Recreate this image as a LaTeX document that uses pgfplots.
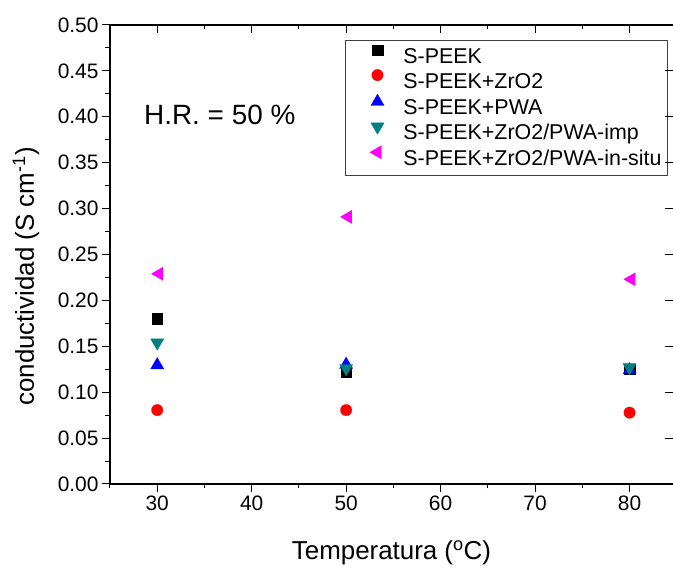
\documentclass[border=0pt]{standalone}
\usepackage{pgfplots}
\pgfplotsset{compat=1.18}
\usepackage{fontspec}
\setmainfont{Liberation Sans}
\definecolor{oteal}{RGB}{0,128,128}
\definecolor{omag}{RGB}{255,0,255}

\pgfplotsset{
 commonax/.style={
  scale only axis, width=563bp, height=459bp,
  xmin=25, xmax=84.6, ymin=0, ymax=0.5,
  xtick={30,40,50,60,70,80},
  minor xtick={25,35,45,55,65,75},
  ytick={0,0.05,0.10,0.15,0.20,0.25,0.30,0.35,0.40,0.45,0.50},
  major tick length=8bp, minor tick length=4.5bp,
  every tick/.style={black, line width=1bp},
  axis line style={line width=1.3bp, black},
 }
}

\begin{document}
\begin{tikzpicture}
\begin{axis}[commonax,
  axis x line*=bottom, axis y line*=left,
  tick align=outside,
  minor ytick={0.025,0.075,0.125,0.175,0.225,0.275,0.325,0.375,0.425,0.475},
  /pgf/number format/assume math mode=true,
  ticklabel style={font=\fontsize{21}{25}\selectfont},
  yticklabel style={/pgf/number format/.cd, fixed, fixed zerofill, precision=2},
  xticklabel style={/pgf/number format/.cd, fixed},
  label style={font=\fontsize{26}{30}\selectfont},
  xlabel={Temperatura (\textsuperscript{o}C)},
  ylabel={conductividad (S cm\textsuperscript{-1})},
  xlabel style={at={(rel axis cs:0.5,0)}, anchor=base, yshift=-76bp},
  ylabel style={at={(rel axis cs:0,0.5)}, anchor=base, yshift=76bp, xshift=-22bp},
  legend cell align=left,
  legend image code/.code={\path (-28bp,0bp) (10bp,0bp); \draw[#1] plot coordinates {(0bp,6.5bp)};},
  legend style={at={(rel axis cs:0.4174,0.9673)}, anchor=north west,
    draw=black!75, line width=0.8bp, inner sep=3.7bp, row sep=0bp, column sep=13.5bp,
    font=\fontsize{21.5}{25}\selectfont,
    nodes={inner xsep=2bp, inner ysep=1bp, text height=18bp, text depth=5bp}},
]
\addplot[only marks, mark=square*, mark size=5.3bp, mark options={fill=black, draw=black, line width=0.3bp}]
 coordinates {(30,0.180) (50,0.1225) (80,0.125)};
\addlegendentry{S-PEEK}
\addplot[only marks, mark=*, mark size=5.7bp, mark options={fill=red, draw=red, line width=0.3bp}]
 coordinates {(30,0.0805) (50,0.0805) (80,0.0777)};
\addlegendentry{S-PEEK+ZrO2}
\addplot[only marks, mark=triangle*, mark size=7.6bp, mark options={fill=blue, draw=blue, line width=0.3bp}]
 coordinates {(30,0.1295) (50,0.130) (80,0.124)};
\addlegendentry{S-PEEK+PWA}
\addplot[only marks, mark=triangle*, mark size=7.6bp, mark options={rotate=180, fill=oteal, draw=oteal, line width=0.3bp}]
 coordinates {(30,0.154) (50,0.126) (80,0.127)};
\addlegendentry{S-PEEK+ZrO2/PWA-imp}
\addplot[only marks, mark=triangle*, mark size=7.6bp, mark options={rotate=90, fill=omag, draw=omag, line width=0.3bp}]
 coordinates {(30.2,0.229) (50.2,0.291) (80.2,0.223)};
\addlegendentry{S-PEEK+ZrO2/PWA-in-situ}
\node[anchor=west, inner sep=0pt, font=\fontsize{28}{32}\selectfont] at (axis cs:28.6,0.402) {H.R. = 50 \%};
\coordinate (SW) at (rel axis cs:0,0);
\coordinate (NE) at (rel axis cs:1,1);
\end{axis}
\begin{axis}[commonax,
  axis x line*=top, axis y line*=right,
  tick align=inside,
  y axis line style={draw=none},
  xticklabels={}, yticklabels={},
  minor ytick={},
]
\end{axis}
\pgfresetboundingbox
\path ([xshift=-110bp,yshift=-88bp]SW) rectangle ([yshift=25bp]NE);
\end{tikzpicture}
\end{document}
